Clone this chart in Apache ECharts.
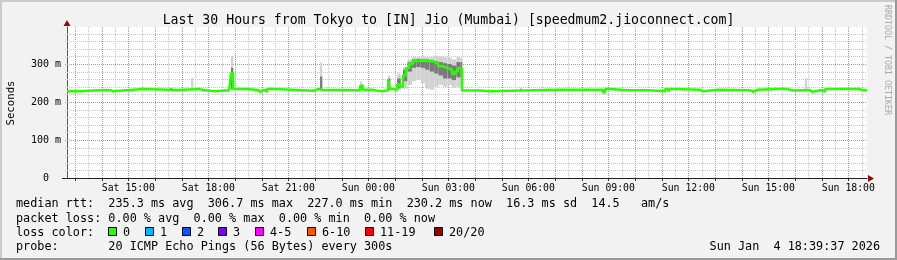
<!DOCTYPE html>
<html><head><meta charset="utf-8">
<script src="https://cdn.jsdelivr.net/npm/echarts@6/dist/echarts.min.js"></script>
<style>html,body{margin:0;padding:0;background:#f2f2f2}#c{width:897px;height:260px}</style>
</head><body><div id="c"></div>
<script>
// ---- data (x = hours since Sat 00:00, y = milliseconds) ----
const titleText = 'Last 30 Hours from Tokyo to [IN] Jio (Mumbai) [speedmum2.jioconnect.com]';
const xStart = 12.7, xEnd = 42.7;
const yMax = 397.4;
const xLabelHours = [15, 18, 21, 24, 27, 30, 33, 36, 39, 42];
const yLabelValues = [0, 100, 200, 300];

// median rtt: change points (hour, ms), held until next point
const medHours = [12.70,13.19,14.09,14.16,14.35,14.43,15.06,15.55,16.86,17.69,17.80,18.25,18.78,18.85,18.93,19.45,19.86,19.94,20.09,20.20,20.50,21.93,22.11,22.26,23.69,23.80,24.14,24.51,24.74,24.81,24.93,25.08,25.19,25.30,25.41,25.53,25.68,26.24,26.43,26.61,26.80,26.99,27.14,27.25,27.36,27.51,28.19,28.56,31.04,31.11,32.80,32.88,33.06,33.74,33.81,34.49,35.13,35.24,35.31,35.50,36.44,36.55,37.11,38.31,38.43,38.58,39.63,40.00,40.56,40.64,41.01,41.13,42.36,42.51,42.70];
const medMs    = [228,231.5,234,231,228,231.5,234,231.5,234,231.5,228,231,234,276,234,231.5,227,232,227,234,229.5,234,232,231,243,232,228,231,260,234,232,246,240,270,289,301,308,307,302,294,289,285,274,280,289,230.5,228,232,228,232,226,234,231,226,231,228,234,228,234,232,228,232,231,227,232,235,230,231.5,227,231.5,227,234,232,231,231];

// smoke (ping spread): start hour, duration (min), lowest, inner low, inner high, highest (ms)
const smokeHours = [16.56,17.35,18.85,22.19,23.69,24.74,25.08,25.30,25.47,25.63,25.80,25.97,26.13,26.30,26.47,26.63,26.80,26.97,27.13,27.30,27.47,29.69,39.17,40.37,42.33];
const smokeMin   = [5,5,5,5,5,5,8,10,10,10,10,10,10,10,10,10,10,10,10,10,3,5,5,5,5];
const smokeLo    = [230,230,229,229,230,230,230,235,245,255,258,250,235,232,240,245,240,245,238,240,240,232,234,231,231];
const smokeQ1    = [231,231,234,232,236,234,236,255,280,290,292,290,285,280,275,270,262,262,258,265,270,232,235,231,233];
const smokeQ3    = [236,233,290,267,243,262,262,285,305,312,313,312,312,310,308,305,302,300,296,305,305,233,235,232,234];
const smokeHi    = [238,264,321,304,254,269,275,292,312,318,318,320,318,318,322,320,318,316,312,318,316,238,240,263,241];

const lossColors = ['#26ff00','#00b8ff','#0059ff','#7e00ff','#ff00ff','#ff5500','#ff0000','#a10000'];
const lossLabels = ['0','1','2','3','4-5','6-10','11-19','20/20'];

const legendLines = [
  'median rtt:  235.3 ms avg  306.7 ms max  227.0 ms min  230.2 ms now  16.3 ms sd  14.5   am/s',
  'packet loss: 0.00 % avg  0.00 % max  0.00 % min  0.00 % now',
  'loss color:',
  'probe:       20 ICMP Echo Pings (56 Bytes) every 300s'
];
const dateText = 'Sun Jan  4 18:39:37 2026';
const sideText = 'RRDTOOL / TOBI OETIKER';

// ---- chart ----
const mono = '"DejaVu Sans Mono", monospace';
const vLines = [];
for (let h = Math.ceil(xStart * 2) / 2; h <= xEnd; h += 0.5) vLines.push(h);
const hLines = [];
for (let v = 20; v < yMax; v += 20) hLines.push(v);

const MAJOR = '#f07a7a', MINOR = '#c6c6c6';

const chart = echarts.init(document.getElementById('c'), null, {renderer: 'canvas'});

const graphics = [];
graphics.push({type:'rect', shape:{x:0,y:0,width:897,height:2}, style:{fill:'#cbcbcb'}, silent:true});
graphics.push({type:'rect', shape:{x:0,y:0,width:2,height:260}, style:{fill:'#cbcbcb'}, silent:true});
graphics.push({type:'rect', shape:{x:0,y:258,width:897,height:2}, style:{fill:'#9a9a9a'}, silent:true});
graphics.push({type:'rect', shape:{x:895,y:0,width:2,height:260}, style:{fill:'#9a9a9a'}, silent:true});
graphics.push({type:'polygon', shape:{points:[[63.5,26],[70.5,26],[67,20]]}, style:{fill:'#8b1010'}, z:10});
graphics.push({type:'polygon', shape:{points:[[868,175],[868,182],[874,178.5]]}, style:{fill:'#8b1010'}, z:10});
graphics.push({type:'line', shape:{x1:62,y1:178.5,x2:67,y2:178.5}, style:{stroke:'#222',lineWidth:1}});
graphics.push({type:'text', x:11, y:103, rotation:Math.PI/2, style:{text:'Seconds', font:'10.7px ' + mono, fill:'#000', align:'center', verticalAlign:'middle'}});
graphics.push({type:'text', x:887, y:60, rotation:-Math.PI/2, style:{text:sideText, font:'8.3px ' + mono, fill:'#a8a8a8', align:'center', verticalAlign:'middle'}});
const lineYs = [204, 218.5, 232.5, 246.5];
legendLines.forEach((s, i) => {
  graphics.push({type:'text', x:16, y:lineYs[i], style:{text:s, font:'11.8px ' + mono, fill:'#000', align:'left', verticalAlign:'middle'}});
});
const sqX = [108, 145, 182, 218, 255, 307, 365, 434];
lossColors.forEach((c, i) => {
  graphics.push({type:'rect', shape:{x:sqX[i]+0.5, y:227.5, width:8, height:8}, style:{fill:c, stroke:'#000', lineWidth:1}});
  graphics.push({type:'text', x:sqX[i]+15, y:232.5, style:{text:lossLabels[i], font:'11.8px ' + mono, fill:'#000', align:'left', verticalAlign:'middle'}});
});
graphics.push({type:'text', x:880, y:246.5, style:{text:dateText, font:'11.8px ' + mono, fill:'#000', align:'right', verticalAlign:'middle'}});

function gridSeries(name, vals, vertical) {
  return {
    type: 'custom', name: name, z: 1, silent: true, clip: false,
    data: vals.map(v => [v]),
    encode: {x: vertical ? 0 : -1, y: vertical ? -1 : 0},
    renderItem: (params, api) => {
      const v = api.value(0);
      const children = [];
      let major;
      if (vertical) {
        major = Math.abs(v - Math.round(v)) < 1e-6;
        const p0 = api.coord([v, 0]), p1 = api.coord([v, yMax]);
        const x = Math.round(p0[0]) + 0.5;
        children.push({type: 'line', shape: {x1: x, y1: p1[1], x2: x, y2: p0[1]},
          style: {stroke: major ? MAJOR : MINOR, lineWidth: 1, lineDash: [1, 1]}});
        if (major) children.push({type: 'line', shape: {x1: x, y1: p0[1], x2: x, y2: p0[1] + 3},
          style: {stroke: '#333', lineWidth: 1}});
      } else {
        major = Math.abs(v % 100) < 1e-6;
        const p0 = api.coord([xStart, v]), p1 = api.coord([xEnd, v]);
        const y = Math.round(p0[1]) + 0.5;
        children.push({type: 'line', shape: {x1: p0[0] - 2, y1: y, x2: p1[0], y2: y},
          style: {stroke: major ? MAJOR : MINOR, lineWidth: 1, lineDash: [1, 1]}});
      }
      return {type: 'group', children: children};
    }
  };
}

const option = {
  animation: false,
  backgroundColor: '#f2f2f2',
  title: {text: titleText, left: 'center', top: 9, textStyle: {fontFamily: mono, fontSize: 13.2, fontWeight: 'normal', color: '#000'}},
  grid: {left: 67, right: 30, top: 27, bottom: 82, show: true, backgroundColor: '#ffffff', borderWidth: 0},
  xAxis: {
    type: 'value', min: xStart, max: xEnd,
    axisLine: {show: true, onZero: false, lineStyle: {color: '#222', width: 1}},
    axisTick: {show: false},
    axisLabel: {customValues: xLabelHours, margin: 5, fontFamily: mono, fontSize: 9.8, color: '#000',
      formatter: v => (v < 24 ? 'Sat ' : 'Sun ') + String(Math.round(v) % 24).padStart(2, '0') + ':00'},
    splitLine: {show: false}
  },
  yAxis: {
    type: 'value', min: 0, max: yMax, interval: 20,
    axisLine: {show: true, lineStyle: {color: '#555', width: 1}},
    axisTick: {show: false},
    axisLabel: {margin: 6, fontFamily: mono, fontSize: 10, color: '#000', showMaxLabel: false,
      formatter: v => yLabelValues.indexOf(v) < 0 ? '' : (v === 0 ? '0  ' : v + ' m')},
    splitLine: {show: false}
  },
  graphic: graphics,
  series: [
    gridSeries('vgrid', vLines, true),
    gridSeries('hgrid', hLines, false),
    {
      type: 'custom', name: 'smoke', z: 2, silent: true, clip: true,
      data: smokeHours.map((h, i) => [h, smokeMin[i], smokeLo[i], smokeQ1[i], smokeQ3[i], smokeHi[i]]),
      encode: {x: 0, y: [2, 5]},
      renderItem: (params, api) => {
        const t = api.value(0), w = api.value(1) / 60;
        const a = api.coord([t, api.value(5)]), b = api.coord([t + w, api.value(2)]);
        const c = api.coord([t, api.value(4)]), d = api.coord([t + w, api.value(3)]);
        return {type: 'group', children: [
          {type: 'rect', shape: {x: a[0], y: a[1], width: b[0] - a[0], height: b[1] - a[1]}, style: {fill: '#d2d2d2'}},
          {type: 'rect', shape: {x: c[0], y: c[1], width: d[0] - c[0], height: d[1] - c[1]}, style: {fill: '#7a7a7a'}}
        ]};
      }
    },
    {
      type: 'line', name: 'median rtt', z: 3, step: 'end', symbol: 'none',
      data: medHours.map((h, i) => [h, medMs[i]]),
      lineStyle: {color: '#26ff00', width: 2.5}
    }
  ]
};
chart.setOption(option);
</script></body></html>
